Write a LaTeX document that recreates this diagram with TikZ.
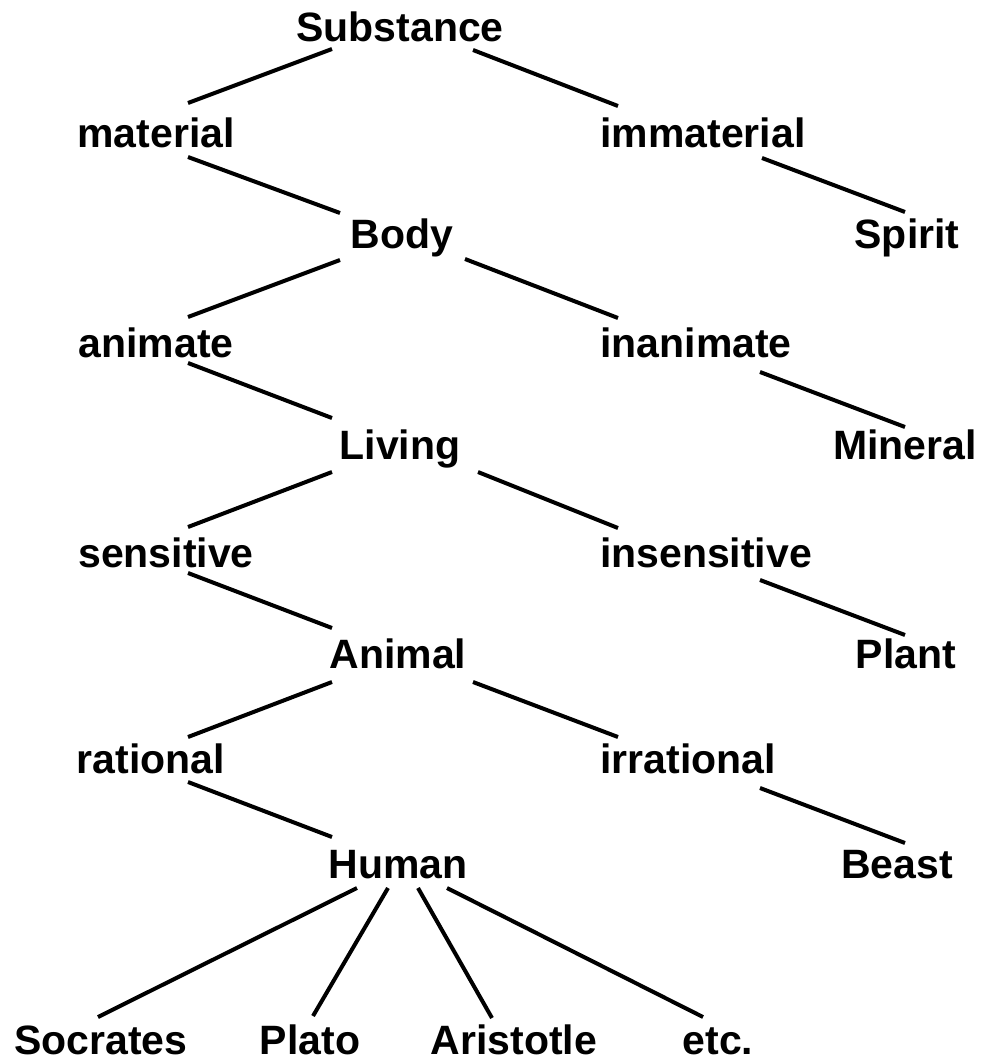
\documentclass[tikz,border=0pt]{standalone}
\usepackage{fontspec}
\setmainfont{Liberation Sans}
\usepackage{tikz}
\usetikzlibrary{positioning}

\begin{document}
\begin{tikzpicture}[x=1pt, y=-1pt,
    word/.style={inner sep=0pt, anchor=base, font=\fontsize{41}{41}\selectfont\bfseries},
    branch/.style={line width=4pt}]

    \useasboundingbox (0,0) rectangle (999,1058);
    \fill[white] (0,0) rectangle (999,1058);

    \node[word] (sub) at (400,41) {Substance};
    \node[word] (mat) at (156,147) {material};
    \node[word] (imm) at (703,147) {immaterial};
    \node[word] (body) at (402,248) {Body};
    \node[word] (spirit) at (907,248) {Spirit};
    \node[word] (anim) at (156,357) {animate};
    \node[word] (inan) at (696,357) {inanimate};
    \node[word] (living) at (400,459) {Living};
    \node[word] (mineral) at (905,459) {Mineral};
    \node[word] (sens) at (166,567) {sensitive};
    \node[word] (insens) at (706,567) {insensitive};
    \node[word] (animal) at (398,668) {Animal};
    \node[word] (plant) at (906,668) {Plant};
    \node[word] (rat) at (151,773) {rational};
    \node[word] (irr) at (688,773) {irrational};
    \node[word] (human) at (398,878) {Human};
    \node[word] (beast) at (897,878) {Beast};
    \node[word] (socrates) at (101,1054) {Socrates};
    \node[word] (plato) at (310,1054) {Plato};
    \node[word] (aristotle) at (514,1054) {Aristotle};
    \node[word] (etc) at (718,1054) {etc.};

    \draw[branch] ([shift={(-68,8)}]sub.base) -- ([shift={(32,-44)}]mat.base);
    \draw[branch] ([shift={(73,9)}]sub.base) -- ([shift={(-85,-41)}]imm.base);
    \draw[branch] ([shift={(32,10)}]mat.base) -- ([shift={(-62,-35)}]body.base);
    \draw[branch] ([shift={(59,11)}]imm.base) -- ([shift={(-2,-36)}]spirit.base);
    \draw[branch] ([shift={(-62,12)}]body.base) -- ([shift={(32,-40)}]anim.base);
    \draw[branch] ([shift={(63,11)}]body.base) -- ([shift={(-78,-39)}]inan.base);
    \draw[branch] ([shift={(32,6)}]anim.base) -- ([shift={(-68,-41)}]living.base);
    \draw[branch] ([shift={(64,15)}]inan.base) -- ([shift={(0,-32)}]mineral.base);
    \draw[branch] ([shift={(-68,13)}]living.base) -- ([shift={(22,-40)}]sens.base);
    \draw[branch] ([shift={(78,13)}]living.base) -- ([shift={(-88,-39)}]insens.base);
    \draw[branch] ([shift={(22,6)}]sens.base) -- ([shift={(-66,-40)}]animal.base);
    \draw[branch] ([shift={(54,13)}]insens.base) -- ([shift={(-1,-33)}]plant.base);
    \draw[branch] ([shift={(-66,14)}]animal.base) -- ([shift={(37,-36)}]rat.base);
    \draw[branch] ([shift={(75,14)}]animal.base) -- ([shift={(-70,-36)}]irr.base);
    \draw[branch] ([shift={(37,9)}]rat.base) -- ([shift={(-66,-41)}]human.base);
    \draw[branch] ([shift={(72,15)}]irr.base) -- ([shift={(8,-35)}]beast.base);
    \draw[branch] ([shift={(-41,10)}]human.base) -- ([shift={(-3,-37)}]socrates.base);
    \draw[branch] ([shift={(-10,10)}]human.base) -- ([shift={(3,-38)}]plato.base);
    \draw[branch] ([shift={(20,10)}]human.base) -- ([shift={(-22,-36)}]aristotle.base);
    \draw[branch] ([shift={(49,10)}]human.base) -- ([shift={(-15,-37)}]etc.base);
\end{tikzpicture}
\end{document}
